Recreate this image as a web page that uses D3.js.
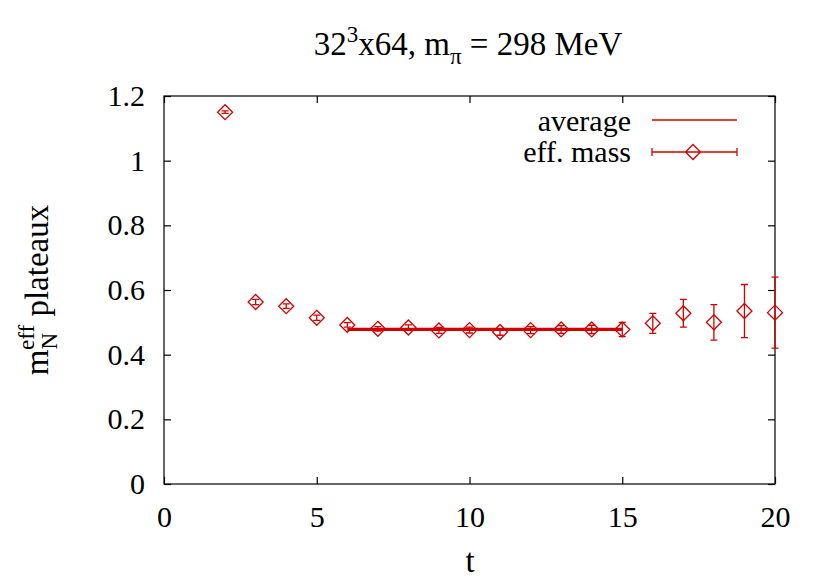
<!DOCTYPE html>
<html>
<head>
<meta charset="utf-8">
<script src="https://cdn.jsdelivr.net/npm/d3@7"></script>
<style>
  body { margin: 0; background: #fff; }
</style>
</head>
<body>
<div id="chart"></div>
<script>
// effective mass data
const tValues = [2, 3, 4, 5, 6, 7, 8, 9, 10, 11, 12, 13, 14, 15, 16, 17, 18, 19, 20];
const mEff = [1.150, 0.563, 0.550, 0.514, 0.492, 0.480, 0.484, 0.475, 0.476, 0.470, 0.476, 0.478, 0.478, 0.478, 0.497, 0.528, 0.500, 0.535, 0.530];
const mErr = [0.004, 0.008, 0.007, 0.008, 0.007, 0.007, 0.008, 0.009, 0.009, 0.010, 0.011, 0.012, 0.013, 0.022, 0.031, 0.043, 0.055, 0.082, 0.110];
const avgRange = [6, 15];
const avgValue = 0.478;
const xTicks = [0, 5, 10, 15, 20];
const yTicks = [0, 0.2, 0.4, 0.6, 0.8, 1, 1.2];

const width = 830, height = 581;
const margin = { top: 96, right: 55, bottom: 97, left: 164 };
const red = "#d40000";
const serif = "Liberation Serif";

const svg = d3.select("#chart").append("svg")
  .attr("width", width)
  .attr("height", height)
  .attr("font-family", serif);

const x = d3.scaleLinear().domain([0, 20]).range([margin.left, width - margin.right]);
const y = d3.scaleLinear().domain([0, 1.2]).range([height - margin.bottom, margin.top]);

const fontSize = 30;
const labelSize = 33;
const subSize = 23;
const tickLen = 7;

// frame
svg.append("rect")
  .attr("x", x(0)).attr("y", y(1.2))
  .attr("width", x(20) - x(0)).attr("height", y(0) - y(1.2))
  .attr("fill", "none").attr("stroke", "#000").attr("stroke-width", 1.2);

// axes (gnuplot style: mirrored inward ticks)
const xAxis = d3.axisBottom(x).tickValues(xTicks).tickSizeInner(-tickLen).tickSizeOuter(0).tickPadding(22).tickFormat(d3.format("d"));
const xTop = d3.axisTop(x).tickValues(xTicks).tickSizeInner(-tickLen).tickSizeOuter(0).tickFormat("");
const yAxis = d3.axisLeft(y).tickValues(yTicks).tickSizeInner(-tickLen).tickSizeOuter(0).tickPadding(19).tickFormat(d => d === 0 || d === 1 ? d3.format("d")(d) : d3.format(".1f")(d));
const yRight = d3.axisRight(y).tickValues(yTicks).tickSizeInner(-tickLen).tickSizeOuter(0).tickFormat("");

function styleAxis(g) {
  g.attr("font-family", serif).attr("font-size", fontSize);
  g.select(".domain").remove();
  g.selectAll("line").attr("stroke", "#000").attr("stroke-width", 1.2);
  g.selectAll("text").attr("font-family", serif).attr("font-size", fontSize).attr("fill", "#000");
}

svg.append("g").attr("transform", `translate(0,${y(0)})`).call(xAxis).call(styleAxis);
svg.append("g").attr("transform", `translate(0,${y(1.2)})`).call(xTop).call(styleAxis);
svg.append("g").attr("transform", `translate(${x(0)},0)`).call(yAxis).call(styleAxis);
svg.append("g").attr("transform", `translate(${x(20)},0)`).call(yRight).call(styleAxis);

// average line
svg.append("line")
  .attr("x1", x(avgRange[0])).attr("x2", x(avgRange[1]))
  .attr("y1", y(avgValue)).attr("y2", y(avgValue))
  .attr("stroke", red).attr("stroke-width", 3.2);

// error bars + diamonds
const pts = tValues.map((t, i) => ({ t, m: mEff[i], e: mErr[i] }));
const cap = 3.5, dsz = 7.5;
const pg = svg.append("g").attr("stroke", red).attr("fill", "none").attr("stroke-width", 1.3);

pg.selectAll(".eb").data(pts).enter().append("path")
  .attr("d", d => {
    const cx = x(d.t), y1 = y(d.m + d.e), y2 = y(d.m - d.e);
    return `M${cx},${y1}V${y2}M${cx - cap},${y1}H${cx + cap}M${cx - cap},${y2}H${cx + cap}`;
  });

pg.selectAll(".dm").data(pts).enter().append("path")
  .attr("d", d => {
    const cx = x(d.t), cy = y(d.m);
    return `M${cx},${cy - dsz}L${cx + dsz},${cy}L${cx},${cy + dsz}L${cx - dsz},${cy}Z`;
  });

// legend
const lg = svg.append("g").attr("font-size", fontSize);
lg.append("text").attr("x", 631).attr("y", 131).attr("text-anchor", "end").text("average");
lg.append("line").attr("x1", 652).attr("x2", 737).attr("y1", 120).attr("y2", 120)
  .attr("stroke", red).attr("stroke-width", 1.3);
lg.append("text").attr("x", 631).attr("y", 162).attr("text-anchor", "end").text("eff. mass");
lg.append("path")
  .attr("d", `M652,152H737M652,148V156M737,148V156M693,${152 - dsz}L${693 + dsz},152L693,${152 + dsz}L${693 - dsz},152Z`)
  .attr("stroke", red).attr("fill", "none").attr("stroke-width", 1.3);

// title
const title = svg.append("text").attr("x", 468).attr("y", 55).attr("text-anchor", "middle")
  .attr("font-size", labelSize);
title.append("tspan").text("32");
title.append("tspan").attr("dy", -13).attr("font-size", subSize).text("3");
title.append("tspan").attr("dy", 13).text("x64, m");
title.append("tspan").attr("dy", 9).attr("font-size", subSize).text("π");
title.append("tspan").attr("dy", -9).text(" = 298 MeV");

// x label
svg.append("text").attr("x", 470).attr("y", 572).attr("text-anchor", "middle")
  .attr("font-size", labelSize).text("t");

// y label
const yl = svg.append("text").attr("transform", "translate(48,290) rotate(-90)")
  .attr("text-anchor", "middle").attr("font-size", labelSize);
yl.append("tspan").text("m");
yl.append("tspan").attr("dy", 9).attr("font-size", subSize).text("N");
yl.append("tspan").attr("dx", -17).attr("dy", -23).attr("font-size", subSize).text("eff");
yl.append("tspan").attr("dy", 14).text(" plateaux");
</script>
</body>
</html>
